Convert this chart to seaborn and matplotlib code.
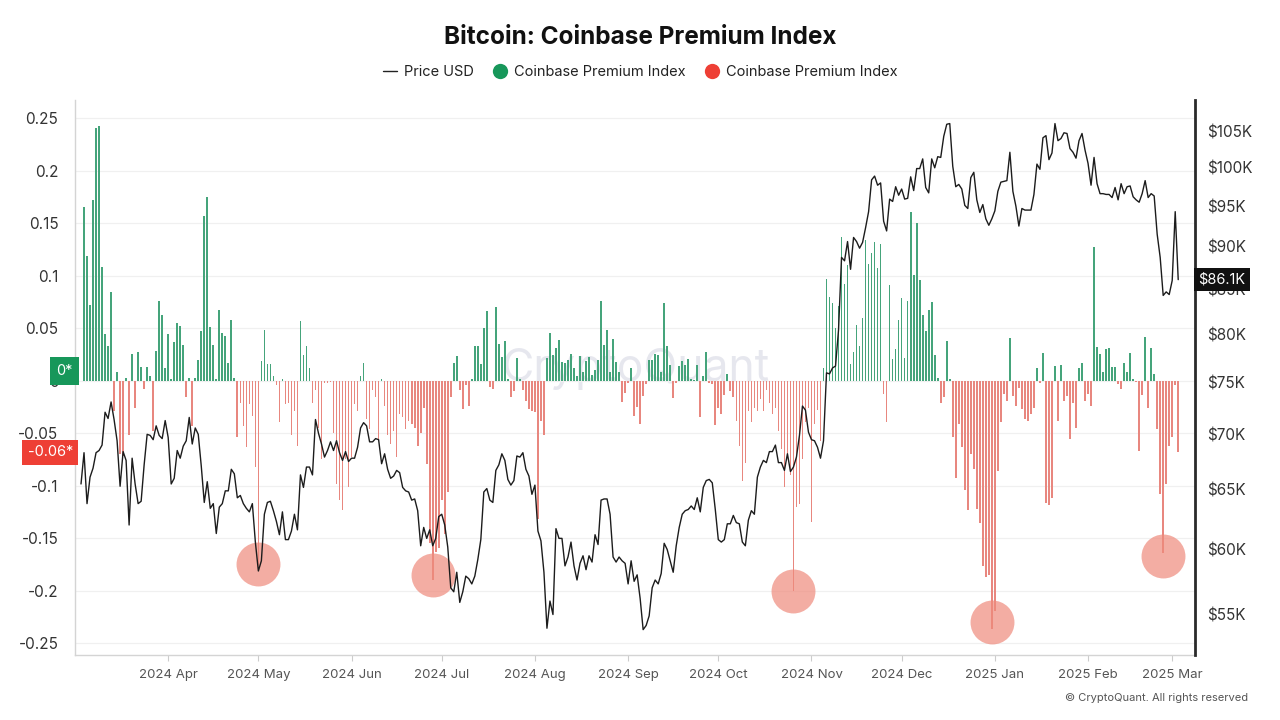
import numpy as np
import pandas as pd
import matplotlib
matplotlib.use("Agg")
import matplotlib.pyplot as plt
from matplotlib.lines import Line2D
from matplotlib.ticker import NullLocator, FixedLocator, FixedFormatter
from matplotlib.transforms import blended_transform_factory
import seaborn as sns

# ---------------- data ----------------
CPI_START = "2024-03-04"
PRICE_START = "2024-03-03"

# Coinbase Premium Index, by month
cpi_mar24 = [0.166, 0.119, 0.072, 0.172, 0.241, 0.243, 0.109, 0.045, 0.033, 0.085,
             -0.029, 0.009, -0.070, -0.071, 0.003, -0.051, 0.026, -0.026, 0.028, 0.013,
             -0.008, 0.013, 0.005, -0.048, 0.029, 0.076, 0.063, 0.012]
cpi_apr24 = [0.045, 0.002, 0.037, 0.055, 0.052, 0.034, -0.015, 0.003, -0.043, 0.003,
             0.020, 0.048, 0.157, 0.175, 0.051, 0.034, 0.002, 0.068, 0.046, 0.043,
             0.017, 0.058, 0.003, -0.053, -0.021, -0.043, -0.063, -0.022, -0.033, -0.082]
cpi_may24 = [-0.180, 0.019, 0.049, 0.016, 0.016, 0.005, -0.004, -0.039, 0.002, -0.022,
             -0.021, -0.051, -0.029, -0.062, 0.057, 0.025, 0.033, 0.012, -0.021, -0.009,
             -0.045, -0.074, -0.002, -0.002, -0.001, -0.050, -0.098, -0.113, -0.123, -0.074, -0.101]
cpi_jun24 = [-0.072, -0.022, -0.029, 0.005, 0.017, -0.036, -0.046, -0.009, -0.015, -0.056,
             0.002, -0.024, -0.051, -0.060, -0.048, -0.072, -0.031, -0.034, -0.046, -0.038,
             -0.041, -0.045, -0.062, -0.050, -0.026, -0.079, -0.154, -0.190, -0.163, -0.159]
cpi_jul24 = [-0.113, -0.146, -0.106, -0.015, 0.017, 0.024, -0.009, -0.027, -0.004, -0.024,
             0.002, 0.033, 0.033, 0.016, 0.050, 0.067, -0.006, -0.008, 0.070, 0.035,
             0.023, 0.038, 0.002, -0.015, -0.010, 0.022, 0.002, -0.009, -0.019, -0.027, -0.029]
cpi_aug24 = [-0.030, -0.131, -0.038, -0.051, 0.022, 0.046, 0.025, 0.031, 0.039, 0.018,
             0.017, 0.020, 0.026, 0.012, 0.005, 0.024, 0.009, 0.019, 0.023, 0.006,
             0.010, 0.020, 0.076, 0.034, 0.049, 0.009, 0.040, 0.018, 0.009, -0.020, -0.011]
cpi_sep24 = [-0.002, 0.012, -0.033, -0.025, -0.041, -0.014, -0.003, 0.020, 0.020, 0.026,
             0.025, 0.009, 0.074, 0.033, 0.015, -0.016, -0.002, 0.014, 0.019, 0.015,
             0.021, 0.002, 0.001, 0.015, -0.034, 0.005, 0.028, -0.002, -0.003, -0.042]
cpi_oct24 = [-0.026, -0.031, -0.013, 0.007, -0.010, -0.015, -0.038, -0.062, -0.095, -0.078,
             -0.029, -0.039, -0.026, -0.029, -0.017, -0.029, -0.009, -0.021, -0.031, -0.026,
             -0.048, -0.065, -0.101, -0.070, -0.090, -0.200, -0.120, -0.117, -0.074, -0.039, -0.026]
cpi_nov24 = [-0.134, -0.041, -0.028, -0.057, 0.012, 0.097, 0.080, 0.074, 0.050, 0.071,
             0.137, 0.092, 0.110, 0.016, 0.028, 0.053, 0.033, 0.060, 0.134, 0.111,
             0.122, 0.132, 0.108, 0.130, -0.012, -0.039, 0.091, 0.021, 0.030, 0.058]
cpi_dec24 = [0.079, 0.022, 0.076, 0.161, 0.101, 0.150, 0.096, 0.063, 0.048, 0.068,
             0.075, 0.025, 0.003, -0.021, -0.015, 0.038, 0.002, -0.053, -0.092, -0.041,
             -0.063, -0.104, -0.123, -0.070, -0.084, -0.122, -0.135, -0.176, -0.187, -0.185, -0.236]
cpi_jan25 = [-0.219, -0.086, -0.039, -0.012, -0.019, 0.041, -0.014, -0.024, -0.007, -0.027,
             -0.036, -0.038, -0.031, -0.026, 0.012, -0.002, 0.027, -0.116, -0.118, -0.111,
             0.014, -0.038, 0.015, -0.019, -0.014, -0.055, -0.021, -0.045, 0.012, 0.017, -0.019]
cpi_feb25 = [-0.012, -0.024, 0.128, 0.032, 0.026, 0.009, 0.030, 0.031, 0.013, 0.013,
             -0.003, -0.008, 0.017, 0.009, 0.027, 0.002, -0.001, -0.067, -0.013, 0.042,
             -0.026, 0.031, 0.007, -0.046, -0.108, -0.164, -0.098, -0.062]
cpi_mar25 = [-0.053, -0.004, -0.068]

# BTC price (thousand USD), by month
px_mar24 = [65.5, 68.3, 63.8, 66.1, 66.9, 68.3, 68.5, 69.0, 72.1, 71.5, 73.1, 71.4, 69.4, 65.3, 68.4,
            67.6, 62.0, 67.8, 65.5, 63.8, 64.0, 67.2, 70.0, 69.9, 69.5, 70.8, 69.9, 69.6, 71.3]
px_apr24 = [69.7, 65.5, 66.0, 68.5, 67.8, 68.9, 69.4, 71.6, 69.1, 70.6, 70.0, 67.1, 63.9, 65.7, 63.4,
            63.8, 61.3, 63.5, 63.8, 64.9, 64.9, 66.8, 66.4, 64.3, 64.5, 63.8, 63.4, 63.1, 63.8, 60.6]
px_may24 = [58.3, 59.1, 62.9, 63.9, 64.0, 63.2, 62.3, 61.2, 63.1, 60.8, 60.8, 61.5, 62.9, 61.6, 66.3,
            65.2, 67.0, 67.0, 66.3, 71.4, 70.1, 69.1, 67.9, 68.5, 69.3, 68.5, 69.4, 68.3, 67.6, 68.4, 67.5]
px_jun24 = [67.8, 67.8, 68.8, 70.6, 71.1, 70.8, 69.3, 69.3, 69.6, 69.5, 67.3, 68.2, 66.8, 66.0, 66.2,
            66.7, 66.5, 65.2, 64.9, 64.8, 64.1, 64.2, 63.2, 60.3, 61.8, 60.9, 61.6, 60.3, 60.9, 62.7]
px_jul24 = [62.9, 62.0, 60.2, 57.0, 56.7, 58.2, 55.9, 56.7, 57.9, 57.7, 57.3, 57.9, 59.2, 60.8, 64.8,
            65.1, 64.1, 63.9, 66.7, 67.2, 68.2, 67.6, 65.9, 65.4, 65.8, 68.0, 67.9, 68.3, 66.8, 66.2, 64.6]
px_aug24 = [65.4, 61.5, 60.7, 58.2, 54.0, 56.0, 55.0, 61.7, 60.9, 60.9, 58.7, 59.4, 60.6, 58.7, 57.6,
            58.9, 59.5, 58.4, 59.5, 59.0, 61.2, 60.4, 64.1, 64.2, 64.2, 62.9, 59.4, 59.0, 59.4, 59.1, 58.9]
px_sep24 = [57.3, 59.1, 57.5, 58.0, 56.2, 53.9, 54.2, 54.9, 57.0, 57.6, 57.3, 58.1, 60.5, 60.0, 59.1,
            58.2, 60.3, 61.8, 62.9, 63.2, 63.3, 63.6, 63.3, 64.3, 63.1, 65.2, 65.8, 65.9, 65.6, 63.3]
px_oct24 = [60.8, 60.6, 60.8, 62.1, 62.1, 62.8, 62.2, 62.1, 60.6, 60.3, 62.4, 63.2, 62.9, 66.1, 67.0,
            67.6, 67.4, 68.4, 68.4, 69.0, 67.4, 67.4, 66.7, 68.2, 66.6, 67.0, 67.9, 69.9, 72.7, 72.3, 70.2]
px_nov24 = [69.5, 69.4, 68.8, 67.8, 69.4, 76.0, 75.9, 76.5, 76.7, 80.5, 88.7, 88.3, 90.6, 87.3, 91.1,
            90.6, 89.8, 90.5, 92.3, 94.3, 98.4, 98.9, 97.7, 98.0, 93.1, 91.9, 95.9, 95.6, 97.5, 96.4]
px_dec24 = [97.2, 95.9, 96.0, 98.8, 97.0, 99.9, 99.9, 101.2, 97.4, 96.7, 101.2, 100.0, 101.5, 101.4,
            104.3, 106.0, 106.1, 100.2, 97.5, 97.8, 97.2, 95.1, 94.7, 98.7, 99.4, 95.8, 94.2, 95.2,
            93.4, 92.6, 93.4]
px_jan25 = [94.4, 96.9, 98.1, 98.2, 98.3, 102.1, 96.9, 95.0, 92.5, 94.7, 94.5, 94.5, 94.5, 96.5,
            100.5, 99.8, 104.1, 104.4, 101.1, 102.0, 106.1, 103.7, 104.0, 104.8, 104.7, 102.6, 102.1,
            101.3, 103.7, 104.7, 102.4]
px_feb25 = [100.6, 97.7, 101.4, 97.9, 96.6, 96.6, 96.5, 96.5, 96.1, 97.4, 95.8, 97.9, 96.6, 97.5,
            97.6, 96.2, 95.8, 95.5, 96.6, 98.3, 96.1, 96.6, 96.3, 91.5, 88.7, 84.3, 84.7, 84.4]
px_mar25 = [86.0, 94.3, 86.1]

# highlighted extremes (circles)
circle_dates = ["2024-05-01", "2024-06-28", "2024-10-26", "2024-12-31", "2025-02-26"]
circle_values = [-0.174, -0.185, -0.200, -0.230, -0.167]

left_ticks = [0.25, 0.2, 0.15, 0.1, 0.05, 0, -0.05, -0.1, -0.15, -0.2, -0.25]
right_ticks = [55, 60, 65, 70, 75, 80, 85, 90, 95, 100, 105]
month_ticks = ["2024-04-01", "2024-05-01", "2024-06-01", "2024-07-01", "2024-08-01", "2024-09-01",
               "2024-10-01", "2024-11-01", "2024-12-01", "2025-01-01", "2025-02-01", "2025-03-01"]
month_labels = ["2024 Apr", "2024 May", "2024 Jun", "2024 Jul", "2024 Aug", "2024 Sep",
                "2024 Oct", "2024 Nov", "2024 Dec", "2025 Jan", "2025 Feb", "2025 Mar"]
last_price = 86.1
last_cpi_label = "-0.06*"

# ---------------- build frames ----------------
cpi = (cpi_mar24 + cpi_apr24 + cpi_may24 + cpi_jun24 + cpi_jul24 + cpi_aug24 + cpi_sep24 +
       cpi_oct24 + cpi_nov24 + cpi_dec24 + cpi_jan25 + cpi_feb25 + cpi_mar25)
price = (px_mar24 + px_apr24 + px_may24 + px_jun24 + px_jul24 + px_aug24 + px_sep24 +
         px_oct24 + px_nov24 + px_dec24 + px_jan25 + px_feb25 + px_mar25)
df_cpi = pd.DataFrame({"date": pd.date_range(CPI_START, periods=len(cpi), freq="D"), "cpi": cpi})
df_px = pd.DataFrame({"date": pd.date_range(PRICE_START, periods=len(price), freq="D"),
                      "price": np.array(price) * 1000.0})

GREEN_BAR = "#45a47b"
RED_BAR = "#e8877f"
GREEN = "#17975a"
RED = "#ee3f35"

sns.set_theme(style="white")
plt.rcParams["font.family"] = ["Inter", "DejaVu Sans"]

W, H = 1280, 720
fig = plt.figure(figsize=(W / 100, H / 100), dpi=100)
fig.patch.set_facecolor("white")
ax = fig.add_axes([75 / W, 65 / H, 1120 / W, 555 / H])

# watermark
ax.text(0.5, 0.515, "CryptoQuant", transform=ax.transAxes, ha="center", va="center",
        fontsize=32, color="#dadbe6", alpha=0.65, zorder=0.5)

# bars
colors = np.where(df_cpi["cpi"] >= 0, GREEN_BAR, RED_BAR)
ax.bar(df_cpi["date"], df_cpi["cpi"], width=0.55, color=colors, linewidth=0, zorder=3)

# circles
ax.scatter(pd.to_datetime(circle_dates), circle_values, s=1000, color="#ef8a7c",
           alpha=0.7, linewidths=0, zorder=4)

ax.set_ylim(-0.261, 0.2676)
ax.set_xlim(pd.Timestamp("2024-03-01"), pd.Timestamp("2025-03-08 14:00"))
ax.yaxis.set_major_locator(FixedLocator(left_ticks))
ax.yaxis.set_major_formatter(FixedFormatter([("%g" % t) for t in left_ticks]))
ax.yaxis.grid(True, color="#f0f0f0", linewidth=0.9)
ax.set_axisbelow(True)
ax.xaxis.set_major_locator(FixedLocator([matplotlib.dates.date2num(pd.Timestamp(m)) for m in month_ticks]))
ax.xaxis.set_major_formatter(FixedFormatter(month_labels))
ax.tick_params(axis="y", length=0, pad=12, labelsize=11, labelcolor="#333333")
ax.tick_params(axis="x", length=4, color="#cccccc", width=0.8, pad=6, labelsize=9.5,
               labelcolor="#555555", bottom=True)
for s in ["top", "right"]:
    ax.spines[s].set_visible(False)
for s in ["left", "bottom"]:
    ax.spines[s].set_color("#d4d4d4")
    ax.spines[s].set_linewidth(1.0)
ax.set_xlabel("")
ax.set_ylabel("")

# price line on right log axis
ax2 = ax.twinx()
sns.lineplot(data=df_px, x="date", y="price", ax=ax2, color="#1c1c1c", linewidth=1.0,
             legend=False, zorder=5)
ax2.set_yscale("log")
ax2.set_ylim(52100, 109500)
ax2.yaxis.set_major_locator(FixedLocator([v * 1000 for v in right_ticks]))
ax2.yaxis.set_major_formatter(FixedFormatter(["$%dK" % v for v in right_ticks]))
ax2.yaxis.set_minor_locator(NullLocator())
ax2.tick_params(axis="y", length=0, pad=9, labelsize=11, labelcolor="#333333")
ax2.grid(False)
for s in ["top", "left", "bottom"]:
    ax2.spines[s].set_visible(False)
ax2.spines["right"].set_color("#2a2a2a")
ax2.spines["right"].set_linewidth(2.0)
ax2.set_xlabel("")
ax2.set_ylabel("")
ax2.set_xlim(ax.get_xlim())

# value boxes
tl = blended_transform_factory(ax.transAxes, ax.transData)
ax.text(-0.002, 0.0095, "0*", transform=tl, ha="right", va="center", color="white",
        fontsize=10.5, zorder=10, clip_on=False,
        bbox=dict(boxstyle="square,pad=0.45", fc=GREEN, ec="none"))
ax.text(-0.002, df_cpi["cpi"].iloc[-1], last_cpi_label, transform=tl, ha="right", va="center",
        color="white", fontsize=10.5, zorder=10, clip_on=False,
        bbox=dict(boxstyle="square,pad=0.38", fc=RED, ec="none"))
tr = blended_transform_factory(ax2.transAxes, ax2.transData)
ax2.text(1.003, last_price * 1000, "$%.1fK" % last_price, transform=tr, ha="left",
         va="center", color="white", fontsize=10.5, zorder=10, clip_on=False,
         bbox=dict(boxstyle="square,pad=0.3", fc="#111111", ec="none"))

# title and legend
fig.text(0.5, 1 - 37 / H, "Bitcoin: Coinbase Premium Index", ha="center", va="center",
         fontsize=17.5, fontweight="bold", color="#111111")
handles = [
    Line2D([0], [0], color="#222222", lw=1.0),
    Line2D([0], [0], marker="o", lw=0, markersize=11, markerfacecolor=GREEN, markeredgewidth=0),
    Line2D([0], [0], marker="o", lw=0, markersize=11, markerfacecolor=RED, markeredgewidth=0),
]
fig.legend(handles, ["Price USD", "Coinbase Premium Index", "Coinbase Premium Index"],
           loc="center", bbox_to_anchor=(0.5, 1 - 72 / H), ncol=3, frameon=False,
           fontsize=10.5, handlelength=1.0, handletextpad=0.45, columnspacing=1.3,
           labelcolor="#222222")

fig.text(1248 / W, 1 - 698 / H, "\u00a9 CryptoQuant. All rights reserved", ha="right",
         va="center", fontsize=8, color="#555555")

fig.savefig("out.png", dpi=100, facecolor="white")
